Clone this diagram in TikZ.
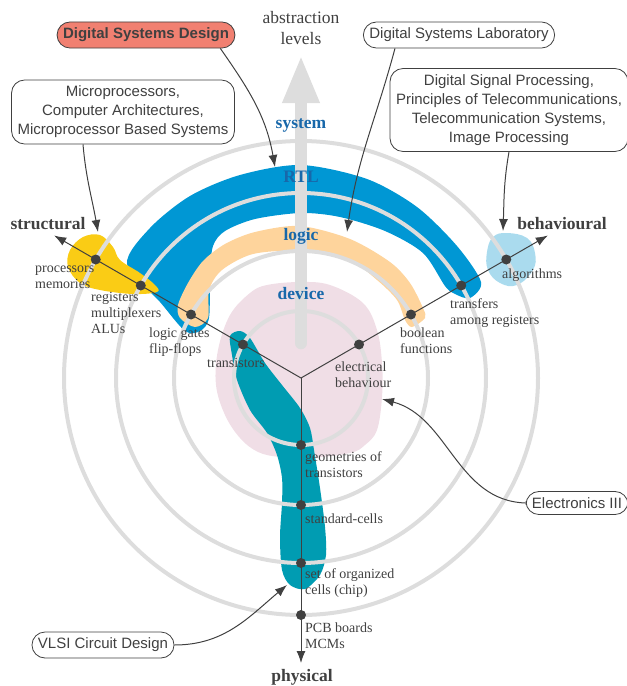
\documentclass[tikz,border=0pt]{standalone}
\usepackage{fontspec}
\setmainfont{Liberation Serif}
\setsansfont{Liberation Sans}
\usetikzlibrary{arrows.meta,calc}

\definecolor{ringgray}{RGB}{221,221,221}
\definecolor{rtlblue}{RGB}{0,151,212}
\definecolor{logicorange}{RGB}{254,212,156}
\definecolor{structyellow}{RGB}{250,204,21}
\definecolor{algoblue}{RGB}{170,219,238}
\definecolor{devicepink}{RGB}{240,222,230}
\definecolor{physteal}{RGB}{0,156,178}
\definecolor{levelblue}{RGB}{24,104,170}
\definecolor{boxred}{RGB}{241,128,113}
\definecolor{inkgray}{RGB}{64,64,64}

\tikzset{
	ring/.style={draw=ringgray, line width=4pt},
	ax/.style={draw=inkgray, line width=1pt, -{Latex[length=12pt,width=9pt]}},
	dot/.style={circle, fill=inkgray, inner sep=0pt, minimum size=10pt},
	lab/.style={text=inkgray, align=left, anchor=north west, inner sep=0pt},
	lvl/.style={text=levelblue, font=\bfseries\fontsize{17.5}{20}\selectfont},
	view/.style={text=inkgray, font=\bfseries\fontsize{17.5}{20}\selectfont},
	course/.style={draw=inkgray, line width=0.8pt, rounded corners=13pt, fill=white, text=inkgray,
		font=\sffamily\fontsize{15}{19}\selectfont, align=center, inner xsep=6pt, inner ysep=6pt},
	callout/.style={draw=inkgray, line width=1pt, -{Latex[length=12pt,width=9pt]}},
}

\begin{document}
\begin{tikzpicture}[x=1pt, y=1pt, line join=round, font=\fontsize{14}{16}\selectfont]
	\useasboundingbox (0,0) rectangle (627,-686);
	\coordinate (O) at (301,-378);
	
	% coloured areas
	\fill[devicepink] plot[smooth cycle, tension=0.6] coordinates {(267,-285) (300,-282) (330,-285) (363,-303) (377,-330) (382,-363) (382,-397) (377,-430) (365,-445) (350,-453) (310,-458) (280,-457) (258,-452) (240,-438) (225,-415) (216,-385) (218,-350) (230,-315) (250,-293)};
	\fill[physteal] plot[smooth cycle, tension=0.5] coordinates {(230,-336) (240,-331) (250,-338) (265,-363) (282,-385) (300,-408) (310,-428) (314,-450) (320,-488) (325,-527) (326,-555) (320,-575) (305,-589) (290,-585) (282,-570) (280,-537) (282,-503) (282,-478) (277,-455) (267,-433) (250,-410) (237,-380) (232,-355)};
	\fill[rtlblue] plot[smooth cycle, tension=0.5] coordinates {(127,-264) (150,-228) (190,-196) (240,-175) (301,-165) (367,-179) (417,-207) (457,-246) (481,-282) (470,-298) (455,-294) (445,-286) (423,-253) (385,-231) (340,-217) (301,-213) (255,-219) (225,-231) (213,-246) (210,-275) (209,-318) (200,-331) (185,-331) (160,-302)};
	\fill[logicorange] plot[smooth cycle, tension=0.5] coordinates {(300,-226) (350,-239) (390,-262) (410,-283) (423,-308) (425,-318) (412,-327) (405,-320) (397,-300) (377,-280) (350,-261) (300,-251) (253,-254) (222,-270) (209,-290) (208,-318) (195,-327) (180,-318) (178,-305) (188,-283) (203,-261) (225,-244) (255,-232)};
	\fill[structyellow] plot[smooth cycle, tension=0.6] coordinates {(70,-250) (83,-237) (100,-235) (113,-247) (120,-260) (140,-273) (155,-285) (157,-292) (133,-294) (100,-290) (80,-283) (68,-267)};
	\fill[algoblue] plot[smooth cycle, tension=0.7] coordinates {(487,-252) (493,-237) (507,-233) (527,-238) (535,-253) (533,-270) (517,-285) (500,-283) (488,-270)};
	
	\foreach \r in {67,127,185,237}
		\draw[ring] (O) circle (\r);
	
	% abstraction levels
	\node[text=inkgray, align=center, font=\fontsize{17.5}{21}\selectfont] (abs) at (301,-28) {abstraction\\levels};
	\coordinate (absfoot) at (301,-343);
	\coordinate (abstip) at (301,-55);
	\draw[draw=ringgray, line width=12.5pt, line cap=round, -{Triangle[length=48pt,width=34pt]}] (absfoot) -- (abstip);
	\node[lvl] (system) at (301,-125) {system};
	\node[lvl] (rtl) at (301,-177) {RTL};
	\node[lvl] (logic) at (301,-236) {logic};
	\node[lvl] (device) at (301,-294) {device};
	
	% Y axes
	\foreach \a/\v in {150/s, 30/b, -90/p} {
		\coordinate (\v-end) at ($(O)+(\a:285)$);
		\draw[ax] (O) -- (\v-end);
		\foreach \r/\k in {67/1, 127/2, 185/3, 237/4}
			\node[dot] (\v\k) at ($(O)+(\a:\r)$) {};
	}
	\node[view] (structural) at (48,-224) {structural};
	\node[view] (behavioural) at (562,-224) {behavioural};
	\node[view] (physical) at (302,-677) {physical};
	
	\node[lab] (l-s4) at (35,-266) {processors\\memories};
	\node[lab] (l-s3) at (91,-292) {registers\\multiplexers\\ALUs};
	\node[lab] (l-s2) at (149,-328) {logic gates\\flip-flops};
	\node[lab] (l-s1) at (207,-358) {transistors};
	\node[lab] (l-b1) at (335,-362) {electrical\\behaviour};
	\node[lab] (l-b2) at (400,-328) {boolean\\functions};
	\node[lab] (l-b3) at (450,-298) {transfers\\among registers};
	\node[lab] (l-b4) at (502,-269) {algorithms};
	\node[lab] (l-p1) at (305,-451) {geometries of\\transistors};
	\node[lab] (l-p2) at (305,-514) {standard-cells};
	\node[lab] (l-p3) at (305,-568) {set of organized\\cells (chip)};
	\node[lab] (l-p4) at (305,-623) {PCB boards\\MCMs};
	
	% courses
	\node[course, fill=boxred, font=\sffamily\bfseries\fontsize{15}{19}\selectfont] (dsd) at (146,-35) {Digital Systems Design};
	\node[course] (dsl) at (459,-35) {Digital Systems Laboratory};
	\node[course] (micro) at (123,-112) {Microprocessors,\\Computer Architectures,\\Microprocessor Based Systems};
	\node[course] (dsp) at (509,-110) {Digital Signal Processing,\\Principles of Telecommunications,\\Telecommunication Systems,\\Image Processing};
	\node[course] (elec) at (577,-503) {Electronics III};
	\node[course] (vlsi) at (103,-645) {VLSI Circuit Design};
	
	\coordinate (dsd-tip) at (275,-167);
	\coordinate (dsl-tip) at (347,-232);
	\coordinate (micro-tip) at (98,-232);
	\coordinate (dsp-tip) at (503,-231);
	\coordinate (elec-tip) at (382,-399);
	\coordinate (vlsi-tip) at (287,-585);
	\draw[callout] ([xshift=-15pt]dsd.south east) to[out=-55,in=100] (dsd-tip);
	\draw[callout] ([xshift=32pt]dsl.south west) to[out=-105,in=82] (dsl-tip);
	\draw[callout] ([xshift=-40pt]micro.south) to[out=-85,in=100] (micro-tip);
	\draw[callout] (dsp.south) to[out=-100,in=88] (dsp-tip);
	\draw[callout] (elec.west) to[out=178,in=-15] (elec-tip);
	\draw[callout] (vlsi.east) to[out=0,in=-140] (vlsi-tip);
\end{tikzpicture}
\end{document}
